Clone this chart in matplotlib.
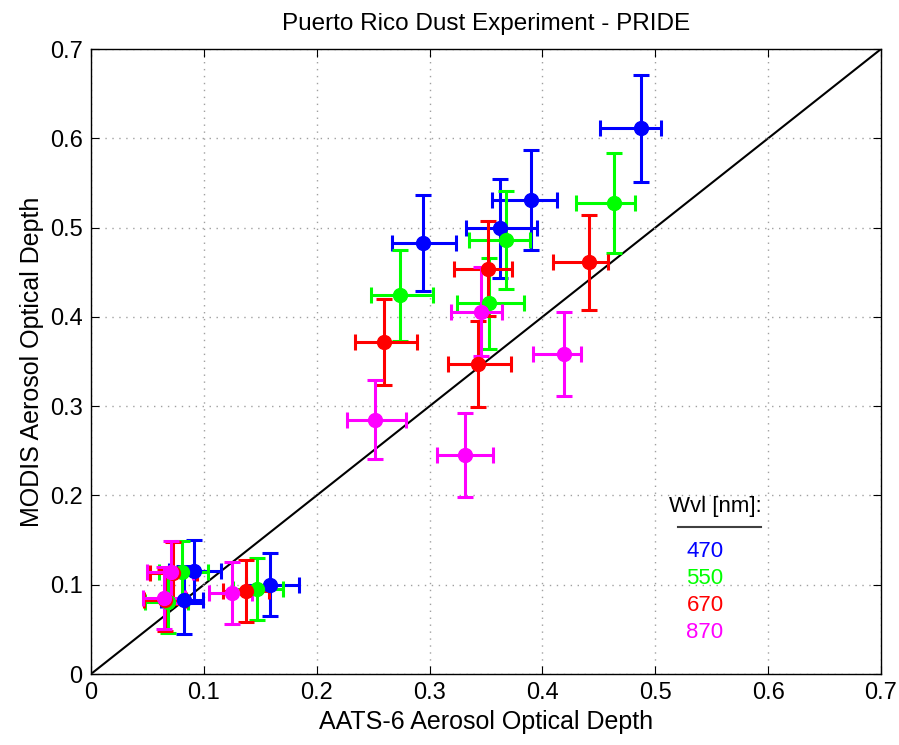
import numpy as np
import matplotlib
matplotlib.use("Agg")
import matplotlib.pyplot as plt

plt.rcParams['font.family'] = ['Liberation Sans', 'DejaVu Sans']

# AATS-6 vs MODIS aerosol optical depth, one set per wavelength
wvl = ["470", "550", "670", "870"]
colors = ["#0000ff", "#00ff00", "#ff0000", "#ff00ff"]

aats = {
    "470": [0.091, 0.082, 0.159, 0.294, 0.362, 0.390, 0.487],
    "550": [0.081, 0.068, 0.147, 0.274, 0.353, 0.368, 0.463],
    "670": [0.073, 0.066, 0.137, 0.260, 0.343, 0.352, 0.441],
    "870": [0.071, 0.065, 0.125, 0.252, 0.331, 0.346, 0.419],
}
# AATS error bars are not symmetric: lower and upper arms
aats_lo = {
    "470": [0.022, 0.020, 0.022, 0.027, 0.030, 0.035, 0.036],
    "550": [0.021, 0.020, 0.021, 0.026, 0.029, 0.033, 0.033],
    "670": [0.021, 0.019, 0.020, 0.026, 0.027, 0.030, 0.032],
    "870": [0.021, 0.019, 0.020, 0.025, 0.024, 0.027, 0.027],
}
aats_hi = {
    "470": [0.024, 0.017, 0.025, 0.029, 0.033, 0.023, 0.018],
    "550": [0.023, 0.018, 0.023, 0.029, 0.031, 0.021, 0.019],
    "670": [0.021, 0.018, 0.021, 0.029, 0.029, 0.021, 0.017],
    "870": [0.019, 0.018, 0.018, 0.027, 0.025, 0.018, 0.015],
}
modis = {
    "470": [0.115, 0.083, 0.100, 0.483, 0.499, 0.531, 0.611],
    "550": [0.114, 0.081, 0.095, 0.424, 0.415, 0.486, 0.528],
    "670": [0.113, 0.083, 0.093, 0.372, 0.347, 0.454, 0.461],
    "870": [0.114, 0.085, 0.091, 0.285, 0.245, 0.406, 0.358],
}
modis_err = {
    "470": [0.035, 0.038, 0.035, 0.054, 0.055, 0.056, 0.060],
    "550": [0.035, 0.035, 0.035, 0.051, 0.051, 0.055, 0.056],
    "670": [0.035, 0.035, 0.035, 0.048, 0.048, 0.053, 0.053],
    "870": [0.035, 0.035, 0.035, 0.044, 0.047, 0.050, 0.047],
}

fig = plt.figure(figsize=(8.99, 7.45), dpi=100)
ax = fig.add_axes([0.1012, 0.0953, 0.8788, 0.8389])

ax.plot([0, 0.7], [0, 0.7], color="black", lw=1.5, zorder=1)

for w, c in zip(wvl, colors):
    ax.errorbar(aats[w], modis[w], xerr=[aats_lo[w], aats_hi[w]], yerr=modis_err[w],
                fmt="o", color=c, ms=10, elinewidth=2.2, capsize=6,
                capthick=2.2, zorder=2)

ax.set_xlim(0, 0.7)
ax.set_ylim(0, 0.7)
ticks = np.arange(0, 0.71, 0.1)
ax.set_xticks(ticks)
ax.set_yticks(ticks)
ax.set_xticklabels(["0"] + ["%.1f" % t for t in ticks[1:]])
ax.set_yticklabels(["0"] + ["%.1f" % t for t in ticks[1:]])
ax.tick_params(direction="in", length=6, labelsize=17, top=True, right=True, pad=6)
ax.grid(True, linestyle=(0, (1, 4)), color="#a0a0a0", lw=1)
for s in ax.spines.values():
    s.set_linewidth(1.0)

ax.set_xlabel("AATS-6 Aerosol Optical Depth", fontsize=18)
ax.set_ylabel("MODIS Aerosol Optical Depth", fontsize=18)
ax.set_title("Puerto Rico Dust Experiment - PRIDE", fontsize=17.5, pad=14)

# wavelength key
ax.text(0.553, 0.176, "Wvl [nm]:", fontsize=16, ha="center", va="bottom")
ax.plot([0.520, 0.594], [0.1645, 0.1645], color="#404040", lw=1.5, zorder=3)
for i, (w, c) in enumerate(zip(wvl, colors)):
    ax.text(0.544, 0.137 - 0.030 * i, w, color=c, fontsize=16, ha="center", va="center")

fig.savefig("out.png", dpi=100)
